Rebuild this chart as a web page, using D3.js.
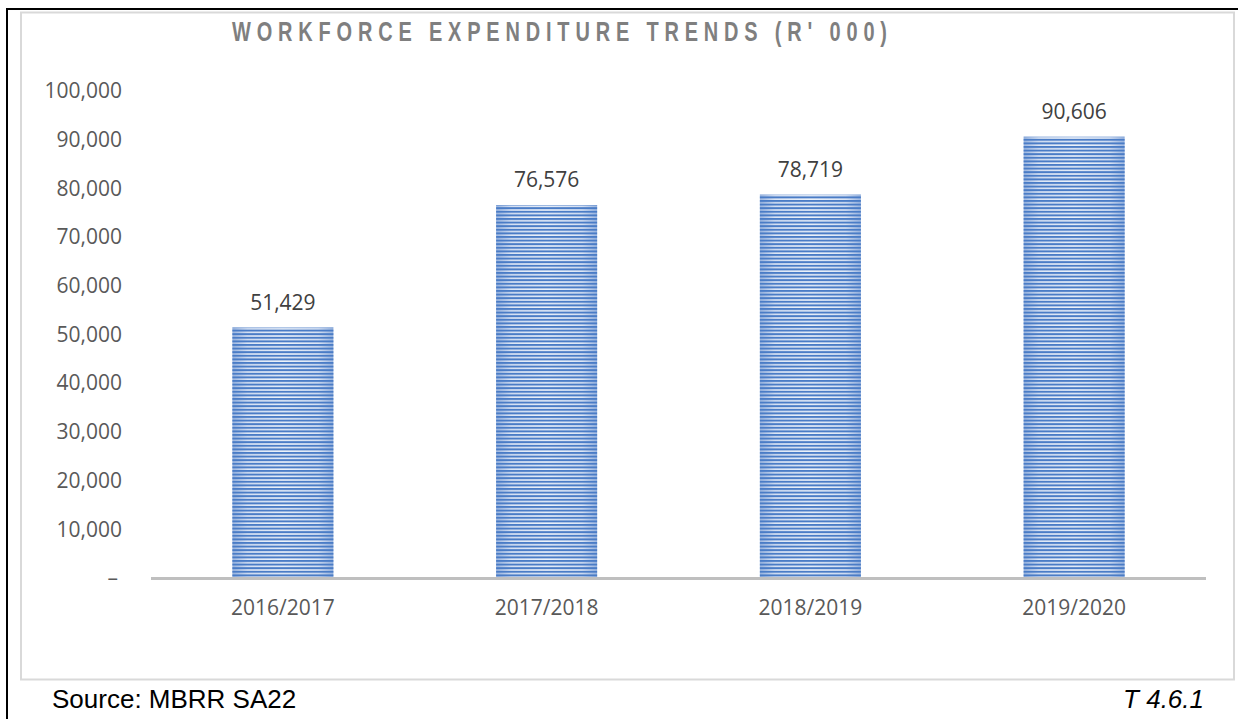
<!DOCTYPE html>
<html>
<head>
<meta charset="utf-8">
<script src="https://cdn.jsdelivr.net/npm/d3@7"></script>
<style>
  html, body { margin: 0; padding: 0; background: #fff; }
  svg { display: block; }
</style>
</head>
<body>
<svg id="chart" width="1238" height="719"></svg>
<script>
// chart data
const years = ['2016/2017', '2017/2018', '2018/2019', '2019/2020'];
const spend = [51429, 76576, 78719, 90606];
const yTicks = [0, 10000, 20000, 30000, 40000, 50000, 60000, 70000, 80000, 90000, 100000];

const svg = d3.select('#chart');
const fontNum = "'Open Sans', 'DejaVu Sans', sans-serif";
const fontArial = "'Liberation Sans', Arial, sans-serif";

// outer frame: black top and left lines, light grey inner box
svg.append('line').attr('x1', 6).attr('x2', 1238).attr('y1', 9).attr('y2', 9)
    .attr('stroke', '#000').attr('stroke-width', 2);
svg.append('line').attr('x1', 7).attr('x2', 7).attr('y1', 8).attr('y2', 719)
    .attr('stroke', '#000').attr('stroke-width', 2);
svg.append('rect').attr('x', 21).attr('y', 12.5).attr('width', 1213).attr('height', 667)
    .attr('fill', 'none').attr('stroke', '#d9d9d9').attr('stroke-width', 2);

// scales
const x = d3.scaleBand().domain(years).range([151, 1206])
    .paddingInner(0.617).paddingOuter(0.3085);
const y = d3.scaleLinear().domain([0, 100000]).range([578, 91]);

// bar fill: horizontal gradient under blue stripes
const defs = svg.append('defs');
const grad = defs.append('linearGradient').attr('id', 'barGrad')
    .attr('x1', '0%').attr('x2', '100%').attr('y1', '0%').attr('y2', '0%');
grad.append('stop').attr('offset', '0%').attr('stop-color', '#9fb8e0');
grad.append('stop').attr('offset', '15%').attr('stop-color', '#dde6f5');
grad.append('stop').attr('offset', '50%').attr('stop-color', '#eef3fa');
grad.append('stop').attr('offset', '85%').attr('stop-color', '#dde6f5');
grad.append('stop').attr('offset', '100%').attr('stop-color', '#9fb8e0');

const pat = defs.append('pattern').attr('id', 'stripes')
    .attr('patternUnits', 'userSpaceOnUse')
    .attr('width', 10).attr('height', 3.6)
    .attr('y', 578);
pat.append('rect').attr('x', 0).attr('y', 0).attr('width', 10).attr('height', 2)
    .attr('fill', '#4a7cc6');

const bars = svg.append('g').attr('class', 'bars')
    .selectAll('g').data(years).join('g');
bars.append('rect')
    .attr('x', d => x(d)).attr('width', x.bandwidth())
    .attr('y', (d, i) => y(spend[i])).attr('height', (d, i) => y(0) - y(spend[i]))
    .attr('fill', 'url(#barGrad)');
bars.append('rect')
    .attr('x', d => x(d)).attr('width', x.bandwidth())
    .attr('y', (d, i) => y(spend[i])).attr('height', (d, i) => y(0) - y(spend[i]))
    .attr('fill', 'url(#stripes)');

// value labels
bars.append('text')
    .attr('x', d => x(d) + x.bandwidth() / 2)
    .attr('y', (d, i) => y(spend[i]) - 18)
    .attr('text-anchor', 'middle')
    .attr('font-family', fontNum).attr('font-size', 21)
    .attr('fill', '#404040')
    .text((d, i) => d3.format(',')(spend[i]));

// baseline
svg.append('line').attr('x1', 151).attr('x2', 1206).attr('y1', 578.5).attr('y2', 578.5)
    .attr('stroke', '#bfbfbf').attr('stroke-width', 3);

// y axis
const yAxis = svg.append('g').attr('transform', 'translate(122,0)')
    .call(d3.axisLeft(y).tickValues(yTicks).tickSize(0).tickPadding(0)
        .tickFormat(d => d === 0 ? '\u2013' : d3.format(',')(d)));
yAxis.select('.domain').remove();
yAxis.selectAll('text')
    .attr('font-family', fontNum).attr('font-size', 21)
    .attr('fill', '#595959')
    .attr('x', d => d === 0 ? -4 : 0);

// x axis
const xAxis = svg.append('g').attr('transform', 'translate(0,578)')
    .call(d3.axisBottom(x).tickSize(0).tickPadding(0));
xAxis.select('.domain').remove();
xAxis.selectAll('text')
    .attr('y', 37).attr('dy', 0)
    .attr('font-family', fontNum).attr('font-size', 21)
    .attr('fill', '#595959');

// title: narrow bold letters, wide spacing
const sx = 0.74;
svg.append('text')
    .attr('transform', `translate(232,41) scale(${sx},1)`)
    .attr('textLength', 655 / sx).attr('lengthAdjust', 'spacing')
    .attr('font-family', fontArial)
    .attr('font-weight', 'bold').attr('font-size', 27)
    .attr('fill', '#7f7f7f')
    .text("WORKFORCE EXPENDITURE TRENDS (R' 000)");

// footer
svg.append('text')
    .attr('x', 52).attr('y', 708)
    .attr('font-family', fontArial)
    .attr('font-size', 26).attr('fill', '#000')
    .text('Source: MBRR SA22');
svg.append('text')
    .attr('x', 1204).attr('y', 708)
    .attr('text-anchor', 'end')
    .attr('font-family', fontArial)
    .attr('font-style', 'italic')
    .attr('font-size', 26).attr('fill', '#000')
    .text('T 4.6.1');
</script>
</body>
</html>
